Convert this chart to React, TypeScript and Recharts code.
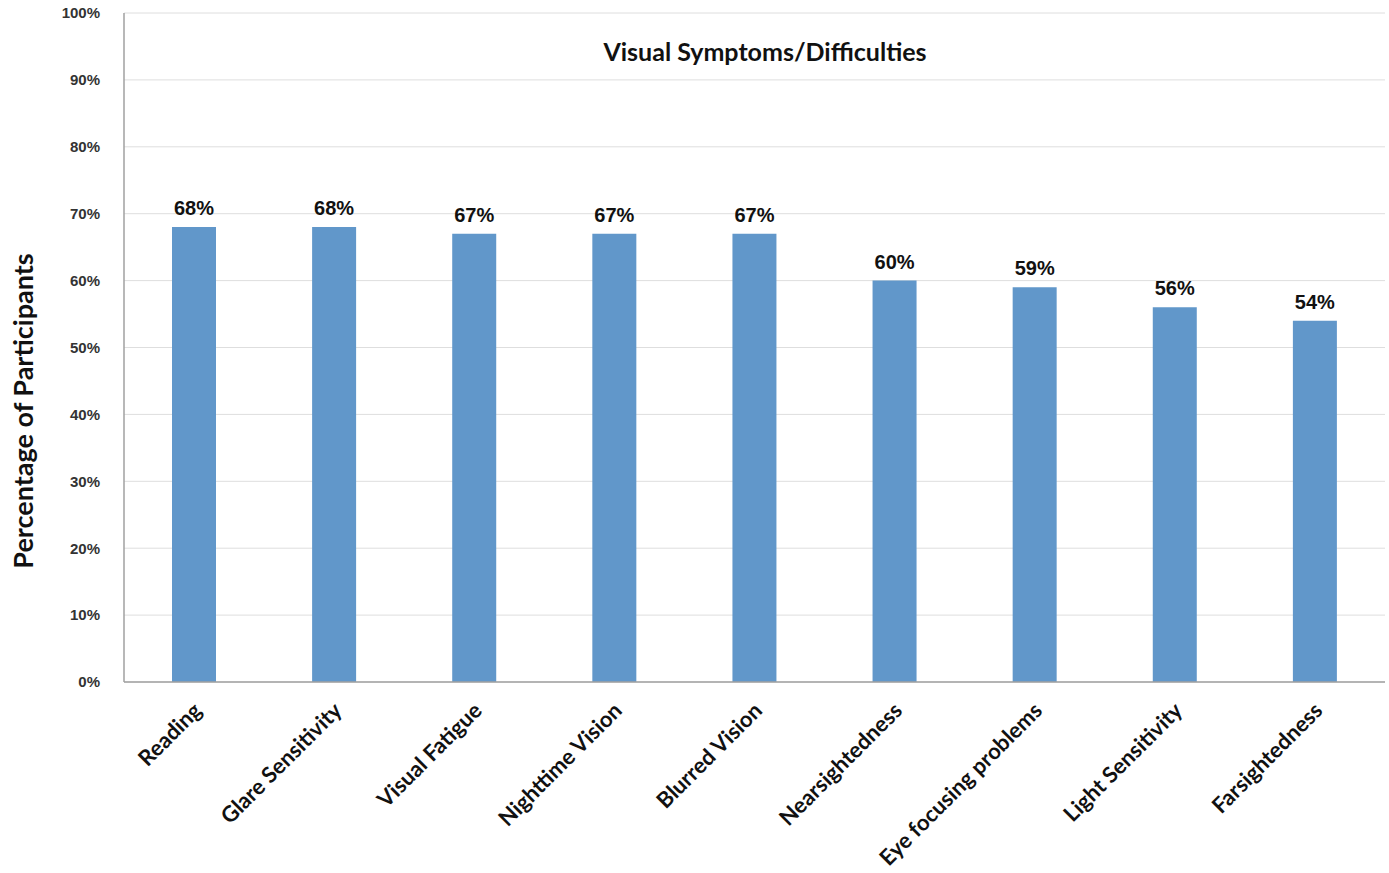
import React from "react";
import {
  Bar,
  BarChart,
  CartesianGrid,
  LabelList,
  XAxis,
  YAxis,
} from "recharts";

const symptoms = [
  "Reading",
  "Glare Sensitivity",
  "Visual Fatigue",
  "Nighttime Vision",
  "Blurred Vision",
  "Nearsightedness",
  "Eye focusing problems",
  "Light Sensitivity",
  "Farsightedness",
];
const participantPct = [68, 68, 67, 67, 67, 60, 59, 56, 54];
const pctTicks = [0, 10, 20, 30, 40, 50, 60, 70, 80, 90, 100];

const rows = symptoms.map((name, i) => ({ name, pct: participantPct[i] }));

const W = 1389;
const H = 873;
const BAR = "#6197ca";
const LABEL_FONT = "Lato, 'Open Sans', sans-serif";
const NUM_FONT = "'Liberation Sans', Arial, sans-serif";

// category names, slanted up to the right and ending under the bar
function SymptomTick({ x, y, payload }: any) {
  const ax = x + 9;
  const ay = y + 22;
  return (
    <text
      x={ax}
      y={ay}
      transform={`rotate(-45, ${ax}, ${ay})`}
      textAnchor="end"
      fontFamily={LABEL_FONT}
      fontWeight={700}
      fontSize={22}
      fill="#111"
    >
      {payload.value}
    </text>
  );
}

export default function App() {
  return (
    <div
      style={{
        position: "absolute",
        left: 0,
        top: 0,
        width: W,
        height: H,
        background: "#fff",
      }}
    >
      <BarChart
        width={W}
        height={H}
        data={rows}
        margin={{ top: 13, right: 4, left: 0, bottom: 0 }}
        barSize={44}
      >
        <CartesianGrid stroke="#dedede" vertical={false} />
        <XAxis
          dataKey="name"
          interval={0}
          tick={<SymptomTick />}
          tickLine={false}
          axisLine={{ stroke: "#a0a0a0", strokeWidth: 1.5 }}
          height={191}
        />
        <YAxis
          domain={[0, 100]}
          ticks={pctTicks}
          tickFormatter={(v) => `${v}%`}
          width={124}
          tickLine={false}
          tickSize={0}
          tickMargin={24}
          axisLine={{ stroke: "#a0a0a0", strokeWidth: 1.5 }}
          tick={{
            fontFamily: NUM_FONT,
            fontWeight: 700,
            fontSize: 15,
            fill: "#333",
          }}
        />
        <Bar dataKey="pct" fill={BAR} isAnimationActive={false}>
          <LabelList
            dataKey="pct"
            position="top"
            offset={12}
            formatter={(v: any) => `${v}%`}
            style={{
              fontFamily: NUM_FONT,
              fontWeight: 700,
              fontSize: 20,
              fill: "#111",
            }}
          />
        </Bar>
      </BarChart>
      <div
        style={{
          position: "absolute",
          left: 0,
          width: 1530,
          top: 36,
          textAlign: "center",
          fontFamily: LABEL_FONT,
          fontWeight: 700,
          fontSize: 25,
          color: "#111",
        }}
      >
        Visual Symptoms/Difficulties
      </div>
      <div
        style={{
          position: "absolute",
          left: 22,
          top: 411,
          transform: "translate(-50%, -50%) rotate(-90deg)",
          whiteSpace: "nowrap",
          fontFamily: LABEL_FONT,
          fontWeight: 700,
          fontSize: 27,
          color: "#111",
        }}
      >
        Percentage of Participants
      </div>
    </div>
  );
}
